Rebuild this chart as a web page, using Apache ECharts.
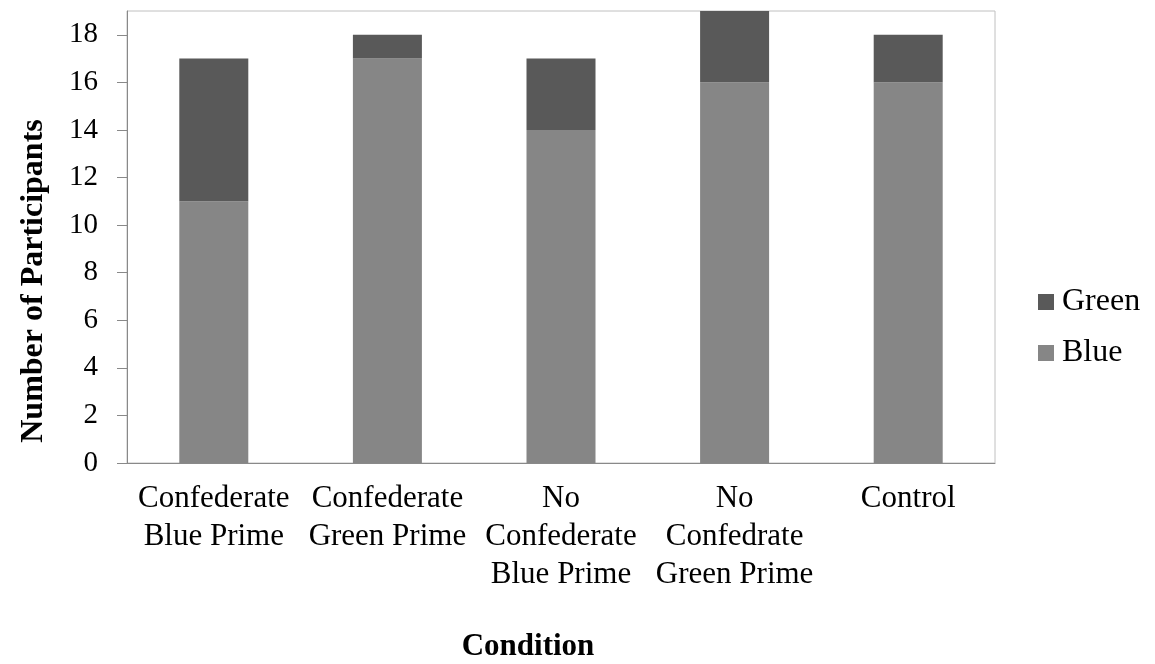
<!DOCTYPE html>
<html>
<head>
<meta charset="utf-8">
<script src="https://cdn.jsdelivr.net/npm/echarts@6/dist/echarts.min.js"></script>
<style>
  html, body { margin: 0; padding: 0; background: #fff; }
  #main { width: 1155px; height: 664px; }
</style>
</head>
<body>
<div id="main"></div>
<script>
  const conditions = [
    "Confederate\nBlue Prime",
    "Confederate\nGreen Prime",
    "No\nConfederate\nBlue Prime",
    "No\nConfedrate\nGreen Prime",
    "Control",
  ];
  const blueCounts = [11, 17, 14, 16, 16];
  const greenCounts = [6, 1, 3, 3, 2];
  const yTicks = [0, 2, 4, 6, 8, 10, 12, 14, 16, 18];

  const font = "'Liberation Serif', 'Times New Roman', serif";
  const axisGray = "#898989";

  let myChart = echarts.init(document.getElementById("main"));

  let option = {
    animation: false,
    textStyle: { fontFamily: font, color: "#000" },
    grid: {
      left: 127,
      right: 160,
      top: 11,
      bottom: 201,
      show: true,
      borderColor: "#c0c0c0",
      borderWidth: 1,
    },
    // axis titles placed by hand, they sit off-centre in the original
    graphic: [
      {
        type: "text",
        x: 34,
        y: 281,
        rotation: Math.PI / 2,
        style: {
          text: "Number of Participants",
          font: "bold 32px " + font,
          fill: "#000",
          align: "center",
          verticalAlign: "middle",
        },
      },
      {
        type: "text",
        x: 528,
        y: 647,
        style: {
          text: "Condition",
          font: "bold 31px " + font,
          fill: "#000",
          align: "center",
          verticalAlign: "middle",
        },
      },
    ],
    legend: {
      orient: "vertical",
      left: 1038,
      top: 286,
      padding: 0,
      itemWidth: 16,
      itemHeight: 16,
      itemGap: 19,
      icon: "rect",
      data: ["Green", "Blue"],
      textStyle: { fontFamily: font, fontSize: 32, color: "#000", padding: [0, 0, 0, 3] },
    },
    xAxis: {
      type: "category",
      data: conditions,
      axisLine: { lineStyle: { color: axisGray, width: 1 } },
      axisTick: { length: 10, lineStyle: { color: axisGray } },
      axisLabel: {
        fontFamily: font,
        fontSize: 31,
        lineHeight: 38,
        color: "#000",
        margin: 17,
        interval: 0,
      },
    },
    yAxis: {
      type: "value",
      min: 0,
      max: 19,
      interval: 2,
      splitLine: { show: false },
      axisLine: { show: true, lineStyle: { color: axisGray, width: 1 } },
      axisTick: { show: true, length: 10, lineStyle: { color: axisGray }, customValues: yTicks },
      axisLabel: {
        fontFamily: font,
        fontSize: 29,
        color: "#000",
        margin: 29,
        customValues: yTicks,
      },
    },
    series: [
      {
        name: "Blue",
        type: "bar",
        stack: "total",
        barWidth: 69,
        data: blueCounts,
        itemStyle: { color: "#868686" },
      },
      {
        name: "Green",
        type: "bar",
        stack: "total",
        barWidth: 69,
        data: greenCounts,
        itemStyle: { color: "#595959" },
      },
    ],
  };

  myChart.setOption(option);
</script>
</body>
</html>
